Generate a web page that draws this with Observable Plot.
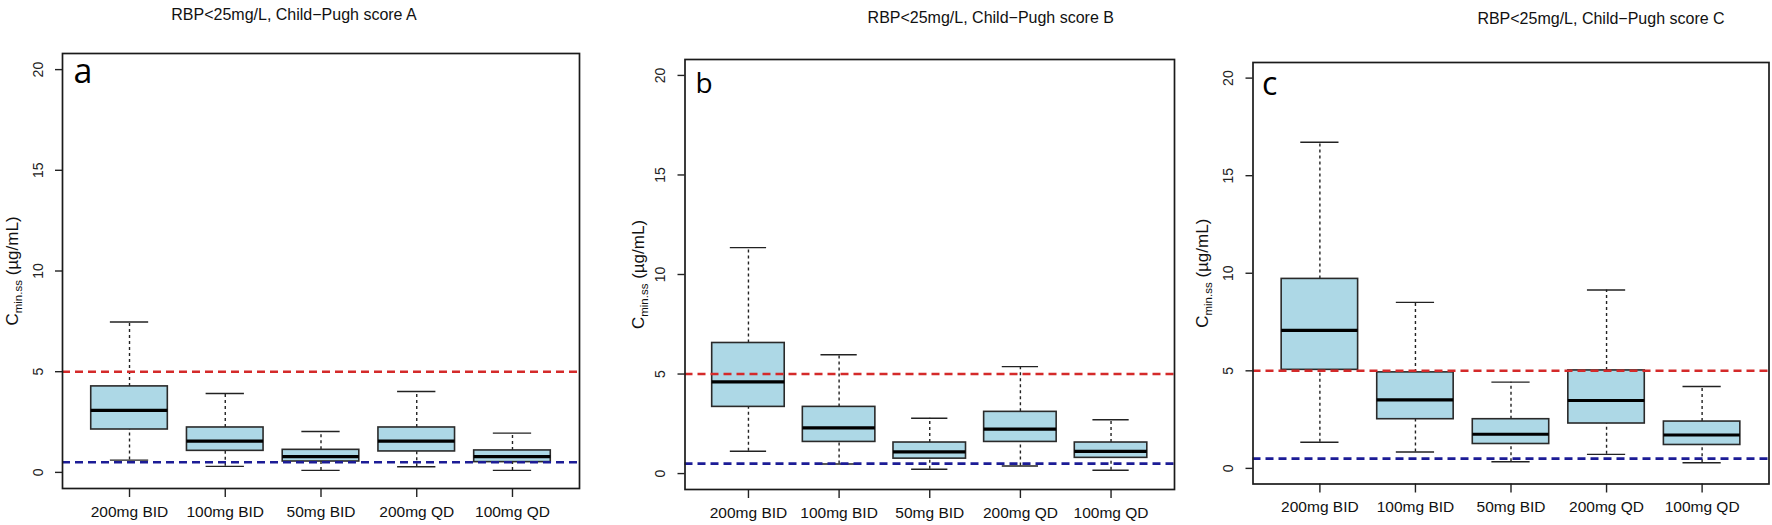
<!DOCTYPE html>
<html><head><meta charset="utf-8">
<script src="https://cdn.jsdelivr.net/npm/d3@7"></script>
<script src="https://cdn.jsdelivr.net/npm/@observablehq/plot@0.6"></script>
<style>
body{margin:0;background:#fff;}
#chart{position:relative;width:1772px;height:525px;overflow:hidden;background:#fff;}
#chart svg{position:absolute;top:0;}
</style></head><body><div id="chart"></div>
<script>
// ---- data ----
const doses = ["200mg BID", "100mg BID", "50mg BID", "200mg QD", "100mg QD"];
const panelTitles = ["RBP<25mg/L, Child\u2212Pugh score A", "RBP<25mg/L, Child\u2212Pugh score B", "RBP<25mg/L, Child\u2212Pugh score C"];
const panelLetters = ["a", "b", "c"];
const yTicks = [0, 5, 10, 15, 20];
const yLabel = "Cmin.ss (\u00b5g/mL)";
const upperLimit = 5;
const lowerLimit = 0.5;

// panel a (Child-Pugh A)
const lowA  = [0.61, 0.30, 0.10, 0.28, 0.10];
const q1A   = [2.13, 1.07, 0.54, 1.04, 0.51];
const medA  = [3.08, 1.55, 0.78, 1.55, 0.78];
const q3A   = [4.27, 2.23, 1.12, 2.23, 1.09];
const highA = [7.47, 3.92, 2.03, 4.02, 1.95];
// panel b (Child-Pugh B)
const lowB  = [1.12, 0.48, 0.22, 0.38, 0.17];
const q1B   = [3.35, 1.59, 0.75, 1.59, 0.79];
const medB  = [4.61, 2.30, 1.09, 2.23, 1.12];
const q3B   = [6.56, 3.35, 1.56, 3.10, 1.56];
const highB = [11.35, 5.97, 2.78, 5.37, 2.70];
// panel c (Child-Pugh C)
const lowC  = [1.34, 0.84, 0.34, 0.72, 0.29];
const q1C   = [5.05, 2.52, 1.25, 2.30, 1.20];
const medC  = [7.07, 3.51, 1.75, 3.48, 1.71];
const q3C   = [9.71, 4.92, 2.52, 5.02, 2.40];
const highC = [16.71, 8.51, 4.42, 9.14, 4.20];

const series = [
  [lowA, q1A, medA, q3A, highA],
  [lowB, q1B, medB, q3B, highB],
  [lowC, q1C, medC, q3C, highC]
];

// ---- layout ----
const layout = [
  {left: 0,    width: 591, mL: 62,   mR: 12,  mT: 53, mB: 37,   titleDx: -27, titleY: 14, letterSize: 34, letterDx: 11,  letterDy: 5,    labelDx: -50},
  {left: 591,  width: 591, mL: 93.5, mR: 8,   mT: 59, mB: 36,   titleDx: 61,  titleY: 17, letterSize: 28, letterDx: 10.5, letterDy: 13.5, labelDx: -46},
  {left: 1182, width: 590, mL: 70.5, mR: 3.5, mT: 62, mB: 41.5, titleDx: 90,  titleY: 18, letterSize: 32, letterDx: 9,   letterDy: 10,   labelDx: -50}
];

const font = "'Liberation Sans', Arial, sans-serif";
const chart = document.getElementById("chart");

series.forEach((s, p) => {
  const [low, q1, med, q3, high] = s;
  const L = layout[p];
  const data = doses.map((d, i) => ({i: i + 1, dose: d, low: low[i], q1: q1[i], med: med[i], q3: q3[i], high: high[i]}));
  const plot = Plot.plot({
    width: L.width,
    height: 525,
    marginLeft: L.mL,
    marginRight: L.mR,
    marginTop: L.mT,
    marginBottom: L.mB,
    style: {fontFamily: font, fontSize: "15px", background: "transparent", overflow: "visible", color: "#111"},
    x: {domain: [0.3, 5.7]},
    y: {domain: [-0.8, 20.8]},
    marks: [
      // whiskers
      Plot.ruleX(data, {x: "i", y1: "q3", y2: "high", stroke: "#222", strokeWidth: 1.4, strokeDasharray: "3,3"}),
      Plot.ruleX(data, {x: "i", y1: "low", y2: "q1", stroke: "#222", strokeWidth: 1.4, strokeDasharray: "3,3"}),
      // caps
      Plot.ruleY(data, {y: "high", x1: d => d.i - 0.2, x2: d => d.i + 0.2, stroke: "#222", strokeWidth: 1.4}),
      Plot.ruleY(data, {y: "low", x1: d => d.i - 0.2, x2: d => d.i + 0.2, stroke: "#222", strokeWidth: 1.4}),
      // boxes
      Plot.rect(data, {x1: d => d.i - 0.4, x2: d => d.i + 0.4, y1: "q1", y2: "q3", fill: "#ADD8E6", stroke: "#2a2a2a", strokeWidth: 1.6}),
      // medians
      Plot.ruleY(data, {y: "med", x1: d => d.i - 0.4, x2: d => d.i + 0.4, stroke: "#000", strokeWidth: 3.2}),
      // reference lines
      Plot.ruleY([upperLimit], {stroke: "#d42a2a", strokeWidth: 2.6, strokeDasharray: "8,5"}),
      Plot.ruleY([lowerLimit], {stroke: "#1c1c96", strokeWidth: 2.6, strokeDasharray: "8,5"}),
      // axes
      Plot.axisX({ticks: [1, 2, 3, 4, 5], tickFormat: i => doses[i - 1], tickSize: 9, tickPadding: 8, fontSize: 15.5, label: null, stroke: "#222", strokeWidth: 1.4}),
      Plot.axisY({ticks: yTicks, tickSize: 7, tickFormat: () => "", label: null, stroke: "#222", strokeWidth: 1.4}),
      Plot.text(yTicks, {y: d => d, text: d => String(d), frameAnchor: "left", dx: -24, rotate: -90, textAnchor: "middle", lineAnchor: "middle", fontSize: 14, fill: "#222"}),
      Plot.frame({stroke: "#1a1a1a", strokeWidth: 1.7}),
      // y label
      Plot.text([yLabel], {frameAnchor: "left", dx: L.labelDx, rotate: -90, textAnchor: "middle", lineAnchor: "middle", fontSize: 17, fill: "#111"}),
      // panel letter
      Plot.text([panelLetters[p]], {frameAnchor: "top-left", dx: L.letterDx, dy: L.letterDy, textAnchor: "start", lineAnchor: "top", fontSize: L.letterSize, fontFamily: "'Open Sans', sans-serif", fill: "#000"}),
      // title
      Plot.text([panelTitles[p]], {frameAnchor: "top", dx: L.titleDx, dy: L.titleY - L.mT, lineAnchor: "middle", textAnchor: "middle", fontSize: 16, fill: "#111"})
    ]
  });
  plot.style.left = L.left + "px";
  // subscript for the y label
  d3.select(plot).selectAll("text").filter(function () { return this.textContent === yLabel; }).each(function () {
    const t = d3.select(this);
    t.text(null);
    t.append("tspan").text("C");
    t.append("tspan").attr("font-size", "11.5px").attr("dy", "4").text("min.ss");
    t.append("tspan").attr("dy", "-4").text(" (\u00b5g/mL)");
  });
  chart.appendChild(plot);
});
</script></body></html>
